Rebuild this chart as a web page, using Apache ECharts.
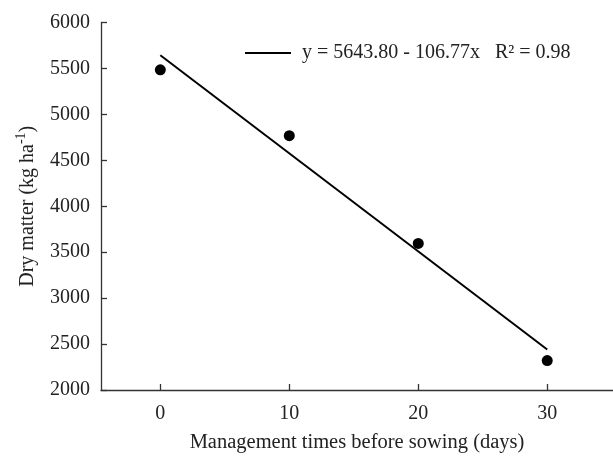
<!DOCTYPE html>
<html>
<head>
    <meta charset="utf-8" />
    <style>
        html, body { margin: 0; padding: 0; background: #fff; }
        #chart { width: 613px; height: 457px; }
    </style>
    <script src="https://cdn.jsdelivr.net/npm/echarts@6/dist/echarts.min.js"></script>
</head>
<body>
    <div id="chart"></div>
    <script type="text/javascript">
        // observed points
        var days = [0, 10, 20, 30];
        var dryMatter = [5485, 4768, 3595, 2320];
        // fitted line end points
        var fitDays = [0, 30];
        var fitValues = [5643.8, 2440.7];
        var xTicks = [0, 10, 20, 30];
        var fitName = 'y = 5643.80 - 106.77x   R\u00B2 = 0.98';

        var font = '"Liberation Serif", "Times New Roman", serif';
        var axisColor = '#333';
        var fs = 20;

        var chart = echarts.init(document.getElementById('chart'));
        chart.setOption({
            animation: false,
            textStyle: { fontFamily: font },
            grid: { left: 101, right: 0, top: 22.5, bottom: 67, outerBoundsMode: 'none' },
            legend: {
                left: 245,
                top: 43,
                padding: 0,
                icon: 'rect',
                itemWidth: 46,
                itemHeight: 2,
                data: [fitName],
                textStyle: { fontFamily: font, fontSize: fs, color: '#222', padding: [0, 0, 0, 6] }
            },
            xAxis: {
                type: 'value',
                min: -4.6,
                max: 35.1,
                name: 'Management times before sowing (days)',
                nameLocation: 'middle',
                nameGap: 42,
                nameTextStyle: { fontFamily: font, fontSize: 20.5, color: '#222' },
                splitLine: { show: false },
                axisLine: { onZero: false, lineStyle: { color: axisColor, width: 1.3 } },
                axisTick: { inside: true, length: 6, customValues: xTicks, lineStyle: { color: axisColor, width: 1.3 } },
                axisLabel: { customValues: xTicks, margin: 14, fontFamily: font, fontSize: fs, color: '#222' }
            },
            yAxis: {
                type: 'value',
                min: 2000,
                max: 6000,
                interval: 500,
                name: '{a|Dry matter (kg ha}{s|-1}{a|)}',
                nameLocation: 'middle',
                nameGap: 59,
                nameRotate: 90,
                nameTextStyle: {
                    rich: {
                        a: { fontFamily: font, fontSize: fs, color: '#222' },
                        s: { fontFamily: font, fontSize: 14, color: '#222', padding: [0, 0, 14, 0] }
                    }
                },
                splitLine: { show: false },
                axisLine: { show: true, onZero: false, lineStyle: { color: axisColor, width: 1.3 } },
                axisTick: { show: true, inside: true, length: 6, lineStyle: { color: axisColor, width: 1.3 } },
                axisLabel: {
                    margin: 11, fontFamily: font, fontSize: fs, color: '#222',
                    formatter: function (v) { return String(v); }
                }
            },
            series: [
                {
                    name: fitName,
                    type: 'line',
                    symbol: 'none',
                    color: '#000',
                    lineStyle: { color: '#000', width: 2 },
                    data: fitDays.map(function (d, i) { return [d, fitValues[i]]; })
                },
                {
                    name: 'observed',
                    type: 'scatter',
                    symbolSize: 11,
                    itemStyle: { color: '#000', opacity: 1 },
                    data: days.map(function (d, i) { return [d, dryMatter[i]]; })
                }
            ]
        });
    </script>
</body>
</html>
